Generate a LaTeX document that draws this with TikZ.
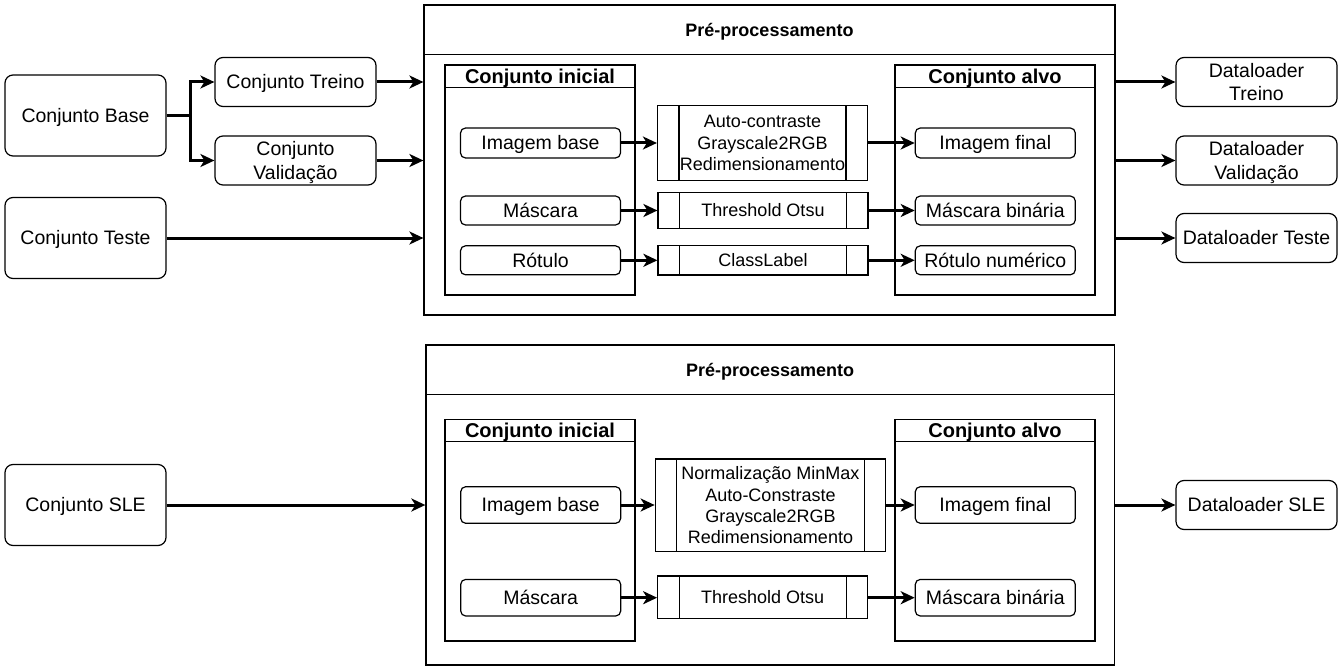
\documentclass[tikz,border=0pt]{standalone}
\usepackage{fontspec}
\setmainfont{Liberation Sans}
\usepackage{tikz}
\usetikzlibrary{arrows.meta, positioning}

\begin{document}
\begin{tikzpicture}[
    x=1pt, y=-1pt,
    conjunto/.style={rectangle, rounded corners=8pt, draw, line width=1.2pt, inner sep=2pt,
                     font=\fontsize{19.5}{23.5}\selectfont, align=center, minimum width=161pt},
    item/.style={rectangle, rounded corners=5pt, draw, line width=1.2pt, inner sep=0pt,
                 font=\fontsize{19.5}{23.5}\selectfont, minimum width=160pt},
    etapa/.style={rectangle, draw, line width=1.2pt, inner sep=0pt, align=center,
                  font=\fontsize{18}{21.3}\selectfont, minimum width=210pt,
                  path picture={\draw[line width=1.2pt]
                      ([xshift=21.5pt]path picture bounding box.north west) -- ([xshift=21.5pt]path picture bounding box.south west)
                      ([xshift=-21.5pt]path picture bounding box.north east) -- ([xshift=-21.5pt]path picture bounding box.south east);}},
    grupo/.style={rectangle, draw, line width=1.2pt, inner sep=0pt},
    titulo/.style={font=\fontsize{20}{24}\selectfont\bfseries, text height=18pt, text depth=4.2pt},
    cabecalho/.style={font=\fontsize{18}{22}\selectfont\bfseries, text height=16.2pt, text depth=3.8pt},
    linha/.style={text height=17.5pt, text depth=4.1pt},
    linhap/.style={text height=16.2pt, text depth=3.8pt},
    bloco/.style={text depth=0pt},
    seta/.style={line width=3pt, -{Stealth[length=14pt, width=13pt, inset=4pt]}},
]
    \useasboundingbox (0,0) rectangle (1341,671);

    % Conjuntos de entrada
    \node[conjunto, linha, minimum height=81pt] (base) at (85.5,115.5) {Conjunto Base};
    \node[conjunto, linha, minimum height=49pt] (treino) at (295.5,82) {Conjunto Treino};
    \node[conjunto, bloco, minimum height=49pt] (valid) at (295.5,160.5) {Conjunto\\Validação};
    \node[conjunto, linha, minimum height=81pt] (teste) at (85.5,238) {Conjunto Teste};
    \node[conjunto, linha, minimum height=81pt] (sle) at (85.5,505) {Conjunto SLE};

    % Dataloaders
    \node[conjunto, bloco, minimum height=49pt] (dltreino) at (1256.5,82) {Dataloader\\Treino};
    \node[conjunto, bloco, minimum height=49pt] (dlvalid) at (1256.5,160.5) {Dataloader\\Validação};
    \node[conjunto, linha, minimum height=49pt] (dlteste) at (1256.5,238) {Dataloader Teste};
    \node[conjunto, linha, minimum height=49pt] (dlsle) at (1256.5,505) {Dataloader SLE};

    % Pre-processamento (treino/validacao/teste)
    \node[grupo, minimum width=691pt, minimum height=310pt] (pre1) at (769.5,160) {};
    \draw[line width=1.2pt] ([yshift=-50pt]pre1.north west) -- ([yshift=-50pt]pre1.north east);
    \node[cabecalho] (pre1t) at (769.5,30) {Pré-processamento};

    \node[grupo, minimum width=190pt, minimum height=230pt] (ini1) at (540,180) {};
    \draw[line width=1.2pt] ([yshift=-23.5pt]ini1.north west) -- ([yshift=-23.5pt]ini1.north east);
    \node[titulo] (ini1t) at (540,77) {Conjunto inicial};

    \node[grupo, minimum width=200pt, minimum height=230pt] (alvo1) at (995,180) {};
    \draw[line width=1.2pt] ([yshift=-23.5pt]alvo1.north west) -- ([yshift=-23.5pt]alvo1.north east);
    \node[titulo] (alvo1t) at (995,77) {Conjunto alvo};

    \node[item, linha, minimum height=30pt] (imgbase1) at (540.5,143) {Imagem base};
    \node[item, linha, minimum height=29pt] (mask1) at (540.5,210.5) {Máscara};
    \node[item, linha, minimum height=29pt] (rot1) at (540.5,260.3) {Rótulo};

    \node[etapa, minimum height=75pt] (proc1) at (762.5,143) {Auto-contraste\\Grayscale2RGB\\Redimensionamento};
    \node[etapa, linhap, minimum height=36pt] (otsu1) at (763,210.5) {Threshold Otsu};
    \node[etapa, linhap, minimum height=29.5pt] (classe1) at (763,260.3) {ClassLabel};

    \node[item, linha, minimum height=30pt] (imgfin1) at (995.3,143) {Imagem final};
    \node[item, linha, minimum height=29pt] (maskbin1) at (995.3,210.5) {Máscara binária};
    \node[item, linha, minimum height=29pt] (rotnum1) at (995.3,260.3) {Rótulo numérico};

    % Pre-processamento (SLE)
    \node[grupo, minimum width=688.5pt, minimum height=320pt] (pre2) at (770.2,505) {};
    \draw[line width=1.2pt] ([yshift=-50pt]pre2.north west) -- ([yshift=-50pt]pre2.north east);
    \node[cabecalho] (pre2t) at (770.2,370) {Pré-processamento};

    \node[grupo, minimum width=190pt, minimum height=221.7pt] (ini2) at (540,530.2) {};
    \draw[line width=1.2pt] ([yshift=-23pt]ini2.north west) -- ([yshift=-23pt]ini2.north east);
    \node[titulo] (ini2t) at (540,431) {Conjunto inicial};

    \node[grupo, minimum width=200pt, minimum height=221.7pt] (alvo2) at (995,530.2) {};
    \draw[line width=1.2pt] ([yshift=-23pt]alvo2.north west) -- ([yshift=-23pt]alvo2.north east);
    \node[titulo] (alvo2t) at (995,431) {Conjunto alvo};

    \node[item, linha, minimum height=36.6pt] (imgbase2) at (540.7,505) {Imagem base};
    \node[item, linha, minimum height=36.6pt] (mask2) at (540.7,597.7) {Máscara};

    \node[etapa, minimum width=230.5pt, minimum height=92.7pt] (proc2) at (770.5,505.3)
        {Normalização MinMax\\Auto-Constraste\\Grayscale2RGB\\Redimensionamento};
    \node[etapa, linhap, minimum height=42.7pt] (otsu2) at (762.7,597.3) {Threshold Otsu};

    \node[item, linha, minimum height=36.6pt] (imgfin2) at (995.3,505) {Imagem final};
    \node[item, linha, minimum height=36.6pt] (maskbin2) at (995.3,597.7) {Máscara binária};

    % Ligacoes de entrada
    \coordinate (div) at (190,115.5);
    \draw[seta] (base) -- (div) |- (treino);
    \draw[seta] (div) |- (valid);
    \draw[seta] (treino) -- (treino -| pre1.west);
    \draw[seta] (valid) -- (valid -| pre1.west);
    \draw[seta] (teste) -- (teste -| pre1.west);
    \draw[seta] (sle) -- (sle -| pre2.west);

    % Ligacoes internas
    \draw[seta] (imgbase1) -- (imgbase1 -| proc1.west);
    \draw[seta] (mask1) -- (mask1 -| otsu1.west);
    \draw[seta] (rot1) -- (rot1 -| classe1.west);
    \draw[seta] (proc1.east |- imgfin1) -- (imgfin1);
    \draw[seta] (otsu1.east |- maskbin1) -- (maskbin1);
    \draw[seta] (classe1.east |- rotnum1) -- (rotnum1);
    \draw[seta] (imgbase2) -- (imgbase2 -| proc2.west);
    \draw[seta] (mask2) -- (mask2 -| otsu2.west);
    \draw[seta] (proc2.east |- imgfin2) -- (imgfin2);
    \draw[seta] (otsu2.east |- maskbin2) -- (maskbin2);

    % Ligacoes de saida
    \draw[seta] (dltreino -| pre1.east) -- (dltreino);
    \draw[seta] (dlvalid -| pre1.east) -- (dlvalid);
    \draw[seta] (dlteste -| pre1.east) -- (dlteste);
    \draw[seta] (dlsle -| pre2.east) -- (dlsle);
\end{tikzpicture}
\end{document}
